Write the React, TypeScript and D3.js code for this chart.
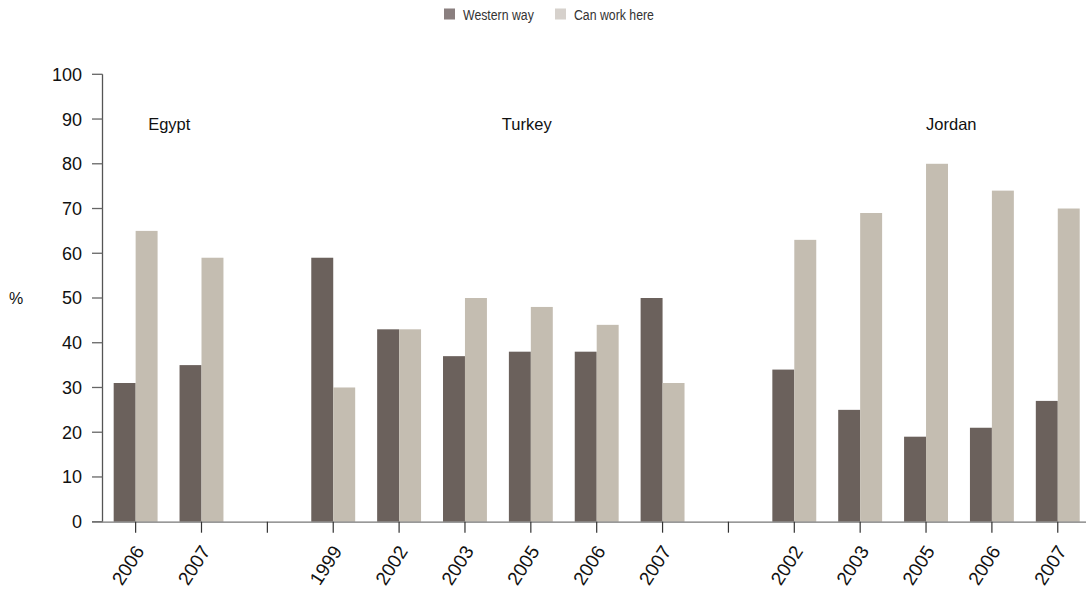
import React from "react";
import * as d3 from "d3";

const countries = ["Egypt", "Egypt", "", "Turkey", "Turkey", "Turkey", "Turkey", "Turkey", "Turkey", "", "Jordan", "Jordan", "Jordan", "Jordan", "Jordan"];
const years = ["2006", "2007", "", "1999", "2002", "2003", "2005", "2006", "2007", "", "2002", "2003", "2005", "2006", "2007"];
const westernWay = [31, 35, null, 59, 43, 37, 38, 38, 50, null, 34, 25, 19, 21, 27];
const canWorkHere = [65, 59, null, 30, 43, 50, 48, 44, 31, null, 63, 69, 80, 74, 70];
const yTicks = [0, 10, 20, 30, 40, 50, 60, 70, 80, 90, 100];
const seriesNames = ["Western way", "Can work here"];
const barColors = ["#6b615c", "#c4bdb1"];
const legendColors = ["#8a7f7f", "#d6d1cc"];
const groupLabels = [
  { name: "Egypt", key: 0, offset: 0.19 },
  { name: "Turkey", key: 5, offset: 0.56 },
  { name: "Jordan", key: 12, offset: 0 },
];

export default function App() {
  const W = 1086, H = 596;
  const keys = years.map((y, i) => `${i}`);
  const x = d3.scaleBand<string>().domain(keys).range([102.7, 1090.7]).paddingInner(0).paddingOuter(0);
  const x1 = d3.scaleBand<string>().domain(["w", "c"]).range([0, x.step()]).paddingInner(0).paddingOuter(0.5);
  const y = d3.scaleLinear().domain([0, 100]).range([521.7, 74.3]);
  const cx = (k: string) => (x(k) as number) + x.bandwidth() / 2;
  const numFont = "'Liberation Sans', Arial, sans-serif";

  return (
    <svg width={W} height={H} style={{ position: "absolute", left: 0, top: 0, background: "#fff" }}>
      {/* legend */}
      {seriesNames.map((s, i) => {
        const lx = i === 0 ? 444 : 555;
        return (
          <g key={s}>
            <rect x={lx} y={8.5} width={11} height={11} fill={legendColors[i]} />
            <text transform={`translate(${lx + 19},19.5) scale(0.82,1)`} fontFamily={numFont} fontSize={15} fill="#333">{s}</text>
          </g>
        );
      })}

      {/* bars */}
      {keys.map((k, i) => (
        <g key={k} transform={`translate(${x(k)},0)`}>
          {westernWay[i] != null && (
            <rect x={x1("w")} y={y(westernWay[i] as number)} width={x1.bandwidth()} height={y(0) - y(westernWay[i] as number)} fill={barColors[0]} />
          )}
          {canWorkHere[i] != null && (
            <rect x={x1("c")} y={y(canWorkHere[i] as number)} width={x1.bandwidth()} height={y(0) - y(canWorkHere[i] as number)} fill={barColors[1]} />
          )}
        </g>
      ))}

      {/* y axis */}
      <line x1={102.5} x2={102.5} y1={y(100)} y2={y(0)} stroke="#555" strokeWidth={1.3} />
      {yTicks.map((t) => (
        <g key={t}>
          <line x1={92} x2={102.5} y1={y(t)} y2={y(t)} stroke="#666" strokeWidth={1.3} />
          <text x={82} y={y(t)} dy="0.36em" textAnchor="end" fontFamily={numFont} fontSize={18} fill="#111">{t}</text>
        </g>
      ))}
      <text x={9} y={y(50)} dy="0.36em" fontFamily={numFont} fontSize={16} fill="#111">%</text>

      {/* x axis */}
      <line x1={92} x2={1086} y1={y(0) + 0.5} y2={y(0) + 0.5} stroke="#777" strokeWidth={1.3} />
      {keys.map((k, i) => (
        <g key={k}>
          <line x1={cx(k)} x2={cx(k)} y1={y(0)} y2={y(0) + 11} stroke="#333" strokeWidth={1.2} />
          {years[i] && (
            <text transform={`translate(${cx(k) - 2},${y(0) + 22}) rotate(-57)`} textAnchor="end" dy="0.72em" fontFamily={numFont} fontSize={19} fill="#111">{years[i]}</text>
          )}
        </g>
      ))}

      {/* group labels */}
      {groupLabels.map((g) => (
        <text key={g.name} x={cx(keys[g.key]) + g.offset * x.step()} y={130} fontFamily={numFont} fontSize={16.5} fill="#111">{g.name}</text>
      ))}
    </svg>
  );
}
